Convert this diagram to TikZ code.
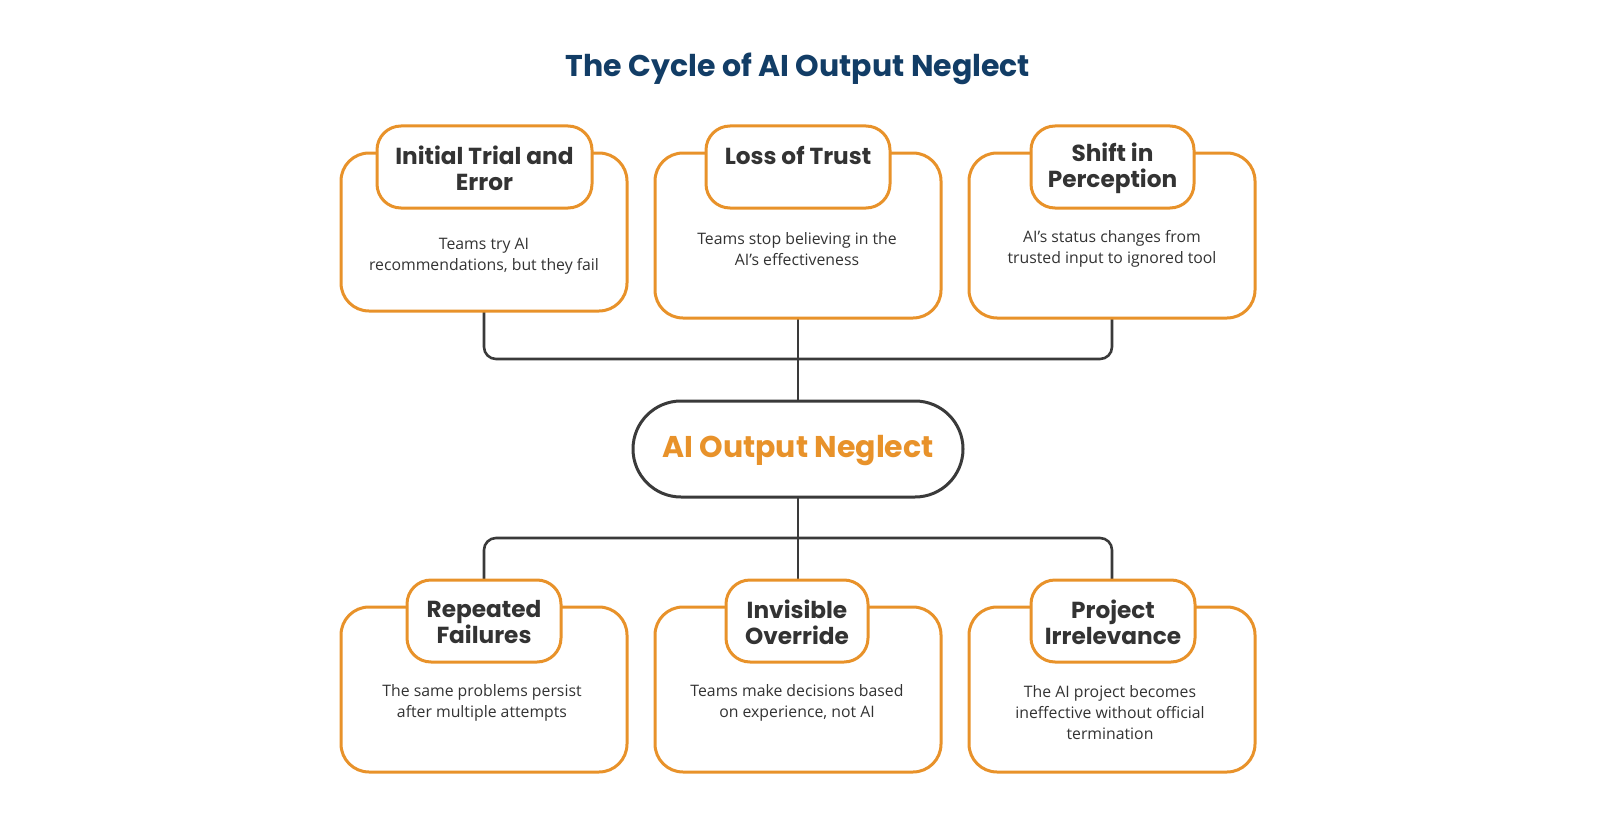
\documentclass[tikz,border=0pt]{standalone}
\usepackage{fontspec}
\setmainfont{Open Sans}
\newfontfamily\pop{Poppins}
\definecolor{org}{HTML}{E8922A}
\definecolor{ttl}{HTML}{123D66}
\definecolor{ln}{HTML}{3A3A3A}
\definecolor{tx}{HTML}{333333}
\begin{document}
\begin{tikzpicture}[x=0.5pt,y=-0.5pt,
 outer/.style={draw=org,line width=1.5pt,rounded corners=14pt,fill=white},
 head/.style={draw=org,line width=1.5pt,rounded corners=12pt,fill=white},
 htxt/.style={font=\pop\bfseries\fontsize{11.6}{13}\selectfont,text=tx,align=center},
 btxt/.style={font=\fontsize{7.9}{10.5}\selectfont,text=tx,align=center},
 conn/.style={draw=ln,line width=1.3pt,rounded corners=6pt}]
\useasboundingbox (0,0) rectangle (1600,840);
\node[font=\pop\bfseries\fontsize{15}{17}\selectfont,text=ttl] (title) at (798,69) {The Cycle of AI Output Neglect};
% connectors
\coordinate (t1) at (484,311); \coordinate (t2) at (798,318); \coordinate (t3) at (1112,318);
\coordinate (b1) at (484,580); \coordinate (b3) at (1112,580);
\draw[conn] (t1) -- (484,359) -- (1112,359) -- (t3);
\draw[conn] (t2) -- (798,401);
\draw[conn] (798,497) -- (798,580);
\draw[conn] (b1) -- (484,538) -- (1112,538) -- (b3);
% top boxes
\draw[outer] (341,153) rectangle (627,311);
\draw[outer] (655,153) rectangle (941,318);
\draw[outer] (969,153) rectangle (1255,318);
\draw[head] (377,126) rectangle (592,208);
\draw[head] (706,126) rectangle (890,208);
\draw[head] (1031,126) rectangle (1194,208);
\node[htxt] (h1) at (484.5,168) {Initial Trial and\\Error};
\node[htxt] (h2) at (798,155) {Loss of Trust};
\node[htxt] (h3) at (1112.5,168) {Shift in\\Perception};
\node[btxt] (d1) at (484,256) {Teams try AI\\recommendations, but they fail};
\node[btxt] (d2) at (797,249) {Teams stop believing in the\\AI's effectiveness};
\node[btxt] (d3) at (1112,249) {AI's status changes from\\trusted input to ignored tool};
% center
\draw[draw=ln,line width=1.5pt,fill=white,rounded corners=24pt] (633,401) rectangle (963,497);
\node[font=\pop\bfseries\fontsize{15}{17}\selectfont,text=org] (c) at (798,451) {AI Output Neglect};
% bottom boxes
\draw[outer] (341,607) rectangle (627,772);
\draw[outer] (655,607) rectangle (941,772);
\draw[outer] (969,607) rectangle (1255,772);
\draw[head] (407,580) rectangle (561,662);
\draw[head] (726,580) rectangle (868,662);
\draw[head] (1031,580) rectangle (1195,662);
\node[htxt] (g1) at (484,622) {Repeated\\Failures};
\node[htxt] (g2) at (797,622) {Invisible\\Override};
\node[htxt] (g3) at (1113,622) {Project\\Irrelevance};
\node[btxt] (e1) at (482,703) {The same problems persist\\after multiple attempts};
\node[btxt] (e2) at (797,703) {Teams make decisions based\\on experience, not AI};
\node[btxt] (e3) at (1110,713) {The AI project becomes\\ineffective without official\\termination};
\end{tikzpicture}
\end{document}
